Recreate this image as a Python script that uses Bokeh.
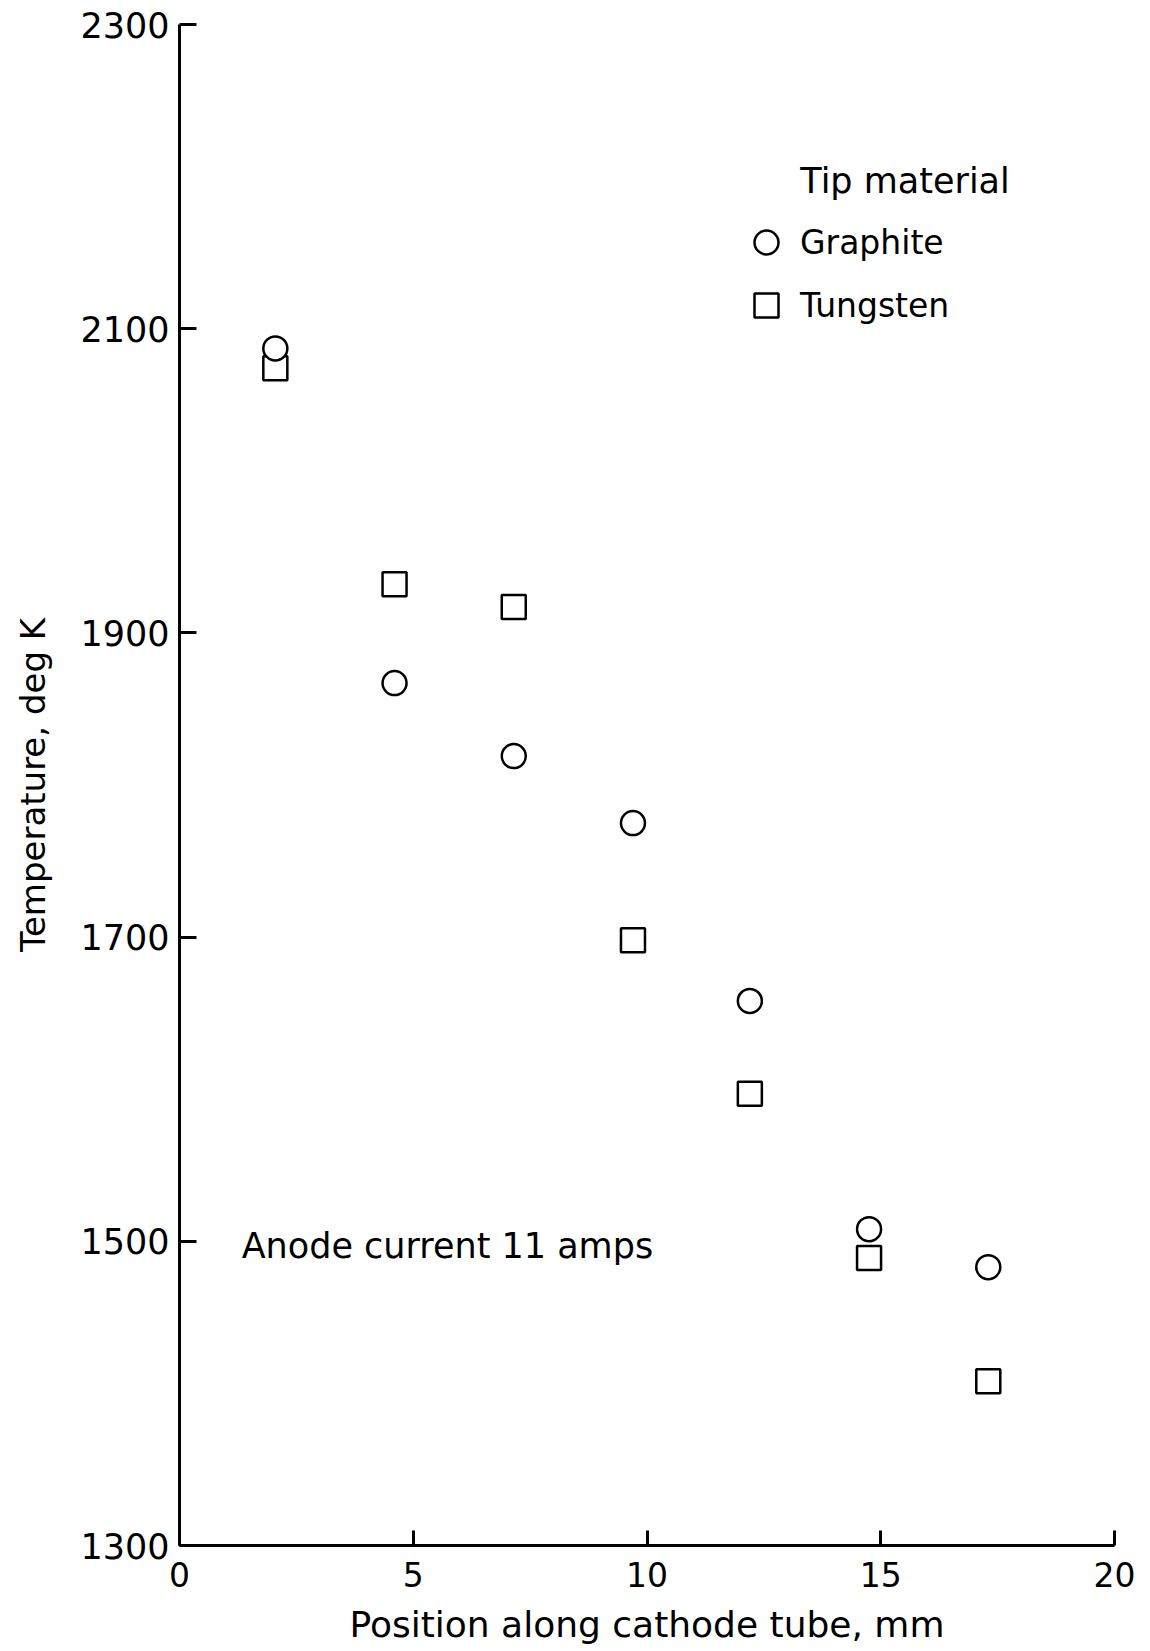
from bokeh.plotting import figure
from bokeh.models import Range1d, FixedTicker, Legend, LegendItem, Label
from bokeh.embed import file_html
from bokeh.resources import INLINE

# ---- data ----
position_mm = [2.05, 4.6, 7.15, 9.7, 12.2, 14.75, 17.3]
graphite_temp = [2087, 1867, 1819, 1775, 1658, 1508, 1483]
tungsten_temp = [2074, 1932, 1917, 1698, 1597, 1489, 1408]
x_ticks = [0, 5, 10, 15, 20]
y_ticks = [1300, 1500, 1700, 1900, 2100, 2300]

FONT = "DejaVu Sans"

p = figure(
    frame_width=935, frame_height=1521,
    min_border_left=179, min_border_right=28,
    min_border_top=24, min_border_bottom=98,
    x_range=Range1d(0, 20), y_range=Range1d(1300, 2300),
    output_backend="svg", toolbar_location=None,
    background_fill_color="white", border_fill_color="white",
)
p.outline_line_color = None
p.xgrid.visible = False
p.ygrid.visible = False

for ax, ticks in ((p.xaxis, x_ticks), (p.yaxis, y_ticks)):
    ax.ticker = FixedTicker(ticks=ticks, minor_ticks=[])
    ax.axis_line_width = 3
    ax.axis_line_color = "black"
    ax.major_tick_line_width = 3
    ax.major_tick_line_color = "black"
    ax.major_tick_out = 0
    ax.minor_tick_in = 0
    ax.minor_tick_out = 0
    ax.major_label_text_font = FONT
    ax.major_label_text_color = "black"
    ax.axis_label_text_font = FONT
    ax.axis_label_text_font_style = "normal"
    ax.axis_label_text_color = "black"

p.xaxis.major_tick_in = 15
p.yaxis.major_tick_in = 17
p.xaxis.major_label_text_font_size = "33px"
p.yaxis.major_label_text_font_size = "35px"
p.xaxis.major_label_standoff = 16
p.yaxis.major_label_standoff = 10
p.xaxis.axis_label = "Position along cathode tube, mm"
p.yaxis.axis_label = "Temperature, deg K"
p.xaxis.axis_label_text_font_size = "36px"
p.yaxis.axis_label_text_font_size = "34px"
p.xaxis.axis_label_standoff = 14
p.yaxis.axis_label_standoff = 24

r_t = p.scatter(position_mm, tungsten_temp, marker="square", size=24,
                fill_color="white", line_color="black", line_width=2.5)
r_g = p.scatter(position_mm, graphite_temp, marker="circle", size=24,
                fill_color="white", line_color="black", line_width=2.5)

legend = Legend(
    items=[LegendItem(label="Graphite", renderers=[r_g]),
           LegendItem(label="Tungsten", renderers=[r_t])],
    location=(557, 1210),
    glyph_width=60, glyph_height=60, label_height=60,
    label_standoff=4, spacing=3, padding=0, margin=0,
    border_line_color=None, background_fill_alpha=0,
    label_text_font=FONT, label_text_font_size="33px", label_text_color="black",
)
p.add_layout(legend)

p.add_layout(Label(x=13.28, y=2197, text="Tip material", text_align="left",
                   text_baseline="middle", text_font=FONT,
                   text_font_size="35px", text_color="black"))
p.add_layout(Label(x=1.33, y=1497, text="Anode current 11 amps", text_align="left",
                   text_baseline="middle", text_font=FONT,
                   text_font_size="35px", text_color="black"))

open("out.html", "w").write(file_html(p, INLINE))
